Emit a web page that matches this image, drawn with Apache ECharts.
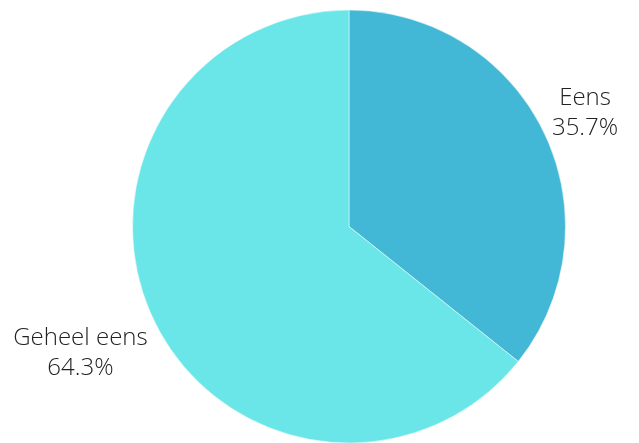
<!DOCTYPE html>
<html>
<head>
<meta charset="utf-8">
<script src="https://cdn.jsdelivr.net/npm/echarts@6/dist/echarts.min.js"></script>
<style>html,body{margin:0;padding:0;background:#fff;}#c{width:639px;height:443px;}</style>
</head>
<body>
<div id="c"></div>
<script>
const categories = ['Eens', 'Geheel eens'];
const values = [5, 9];
const colors = ['#43b8d6', '#6ae6e8'];
const labelWidths = [72, 137];
const labelPaddings = [[0, 0, 39, 0], [65, 0, 0, 0]];

const chart = echarts.init(document.getElementById('c'), null, {renderer: 'canvas'});
chart.setOption({
  animation: false,
  series: [{
    type: 'pie',
    center: [349, 226.5],
    radius: [0, 216.5],
    startAngle: 90,
    clockwise: true,
    percentPrecision: 1,
    avoidLabelOverlap: false,
    itemStyle: {borderColor: '#ffffff', borderWidth: 0.5},
    label: {
      show: true,
      position: 'outside',
      formatter: '{t|{b}}\n{t|{d}%}',
      color: '#222222',
      fontFamily: 'Open Sans',
      fontWeight: 300,
      fontSize: 24
    },
    labelLine: {show: false, length: 0, length2: 0},
    emphasis: {disabled: true},
    data: categories.map((c, i) => ({
      name: c,
      value: values[i],
      itemStyle: {color: colors[i]},
      label: {
        padding: labelPaddings[i],
        rich: {t: {width: labelWidths[i], align: 'center', fontFamily: 'Open Sans', fontWeight: 300, fontSize: 24, lineHeight: 30, color: '#222222'}}
      }
    }))
  }]
});
</script>
</body>
</html>
